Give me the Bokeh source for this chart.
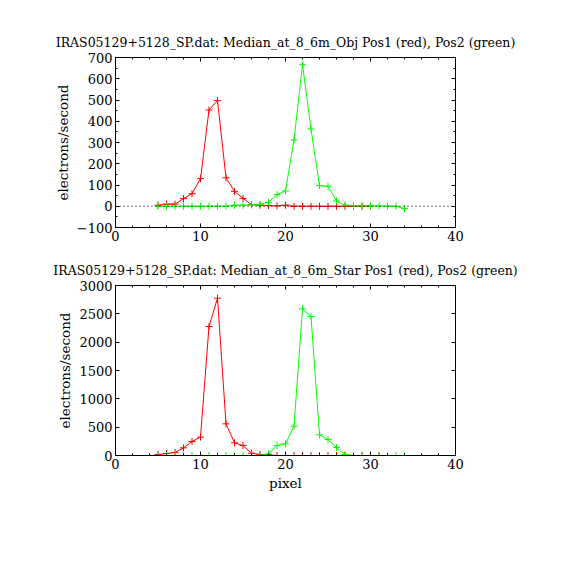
from bokeh.plotting import figure
from bokeh.models import Range1d, LinearAxis, SingleIntervalTicker, Span, CustomLabelingPolicy
from bokeh.layouts import column
from bokeh.embed import file_html
from bokeh.resources import INLINE

# ---- data ----
title_obj = "IRAS05129+5128_SP.dat: Median_at_8_6m_Obj Pos1 (red), Pos2 (green)"
title_star = "IRAS05129+5128_SP.dat: Median_at_8_6m_Star Pos1 (red), Pos2 (green)"

obj_red_x = list(range(5, 31))
obj_red_y = [5, 10, 10, 36, 59, 130, 453, 497, 134, 70, 37, 8, 5, 3, 2, 5,
             0, 0, 0, 0, 0, 0, 0, 0, 0, 0]
obj_green_x = list(range(5, 35))
obj_green_y = [0, 0, 0, 0, 0, 0, 0, 0, 0, 5, 5, 6, 9, 19, 55, 72, 312, 666,
               364, 97, 94, 25, 5, 2, 2, 2, 1, 1, 0, -11]

star_red_x = list(range(5, 32))
star_red_y = [18, 35, 53, 135, 247, 324, 2276, 2776, 559, 224, 176, 41, 18, 12,
              0, 0, 0, 0, 0, 0, 0, 0, 0, 0, 0, 0, 0]
star_green_x = list(range(5, 35))
star_green_y = [0, 0, 0, 0, 0, 0, 0, 0, 0, 0, 0, 0, 0, 29, 176, 206, 518, 2588,
                2453, 365, 282, 141, 18, 0, 0, 0, 0, 0, 0, 0]

FONT = "DejaVu Serif"

HIDE_ALL = "const all = [...indices]; for (const i of all) { indices.unset(i) } return indices"


def style_axis(ax, show_labels=True):
    ax.axis_line_color = "black"
    ax.major_tick_in = 4
    ax.major_tick_out = 0
    ax.minor_tick_in = 2
    ax.minor_tick_out = 0
    ax.major_tick_line_color = "black"
    ax.minor_tick_line_color = "black"
    ax.major_label_text_font = FONT
    ax.major_label_text_color = "black"
    ax.axis_label_text_font = FONT
    ax.axis_label_text_font_style = "normal"
    ax.axis_label_text_font_size = "13.5px"
    ax.axis_label_text_color = "black"
    if show_labels:
        ax.major_label_text_font_size = "13px"
        ax.major_label_standoff = 3
    else:
        ax.major_label_text_font_size = "1px"
        ax.major_label_standoff = 0
        ax.major_label_policy = CustomLabelingPolicy(code=HIDE_ALL)


def make_panel(title, rx, ry, gx, gy, ymin, ymax, yint, yminor, xlabel,
               top_border, bottom_border, zero_line):
    p = figure(frame_width=340, frame_height=170, output_backend="svg",
               toolbar_location=None, title=title,
               x_range=Range1d(0, 40), y_range=Range1d(ymin, ymax),
               min_border_left=115, min_border_right=95,
               min_border_top=top_border, min_border_bottom=bottom_border)
    p.title.text_font = FONT
    p.title.text_font_size = "12.5px"
    p.title.text_font_style = "normal"
    p.title.text_color = "black"
    p.title.align = "center"
    p.title.standoff = 7
    p.xgrid.grid_line_color = None
    p.ygrid.grid_line_color = None
    p.outline_line_color = "black"
    p.outline_line_alpha = 1

    xt = SingleIntervalTicker(interval=10, num_minor_ticks=5)
    yt = SingleIntervalTicker(interval=yint, num_minor_ticks=yminor)
    p.xaxis.ticker = xt
    p.yaxis.ticker = yt
    style_axis(p.xaxis[0])
    style_axis(p.yaxis[0])
    p.yaxis.axis_label = "electrons/second"
    p.yaxis.axis_label_standoff = 3
    if xlabel:
        p.xaxis.axis_label = xlabel
        p.xaxis.axis_label_standoff = 3

    top = LinearAxis(ticker=xt)
    style_axis(top, False)
    p.add_layout(top, "above")
    right = LinearAxis(ticker=yt)
    style_axis(right, False)
    p.add_layout(right, "right")

    if zero_line:
        p.add_layout(Span(location=0, dimension="width", line_color="black",
                          line_dash="1 3", line_width=1))

    p.line(rx, ry, color="#ff0000", line_width=1)
    p.scatter(rx, ry, marker="cross", size=7, color="#ff0000", line_width=1)
    p.line(gx, gy, color="#00ff00", line_width=1)
    p.scatter(gx, gy, marker="cross", size=7, color="#00ff00", line_width=1)
    return p


p1 = make_panel(title_obj, obj_red_x, obj_red_y, obj_green_x, obj_green_y,
                -100, 700, 100, 2, None, 57, 25, True)
p2 = make_panel(title_star, star_red_x, star_red_y, star_green_x, star_green_y,
                0, 3000, 500, 0, "pixel", 33, 60, False)

layout = column(p1, p2, spacing=0)
open("out.html", "w").write(file_html(layout, INLINE))
